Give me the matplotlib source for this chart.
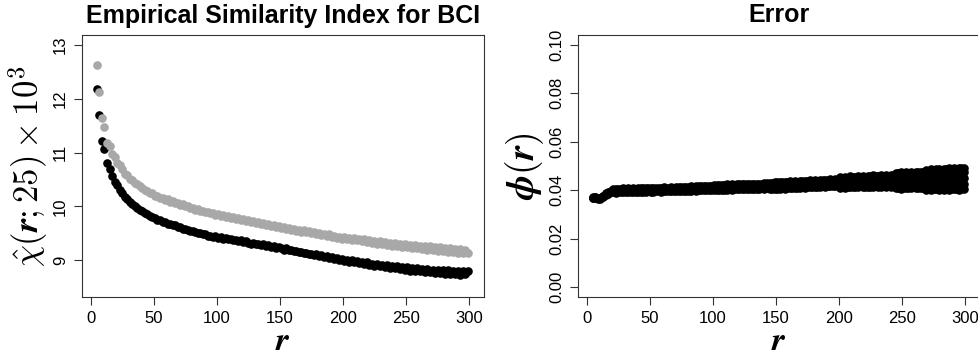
import matplotlib
matplotlib.use("Agg")
import matplotlib.pyplot as plt

plt.rcParams['font.family'] = ['Liberation Sans', 'DejaVu Sans']
plt.rcParams['mathtext.fontset'] = 'cm'

# ---------------- data ----------------
r = list(range(5, 300, 2))

chi_black = [
    12.17, 11.70, 11.21, 11.07, 10.80, 10.69, 10.57, 10.46, 10.40, 10.31,
    10.25, 10.18, 10.14, 10.08, 10.05, 10.00, 9.98, 9.94, 9.92, 9.88,
    9.86, 9.82, 9.80, 9.79, 9.75, 9.74, 9.71, 9.71, 9.68, 9.67,
    9.65, 9.65, 9.62, 9.61, 9.59, 9.59, 9.56, 9.55, 9.54, 9.52,
    9.51, 9.51, 9.48, 9.48, 9.46, 9.46, 9.44, 9.45, 9.42, 9.43,
    9.40, 9.42, 9.39, 9.40, 9.37, 9.38, 9.36, 9.38, 9.34, 9.35,
    9.33, 9.31, 9.33, 9.30, 9.31, 9.28, 9.30, 9.27, 9.28, 9.25,
    9.26, 9.23, 9.24, 9.22, 9.20, 9.22, 9.19, 9.20, 9.17, 9.18,
    9.15, 9.16, 9.13, 9.14, 9.11, 9.12, 9.10, 9.12, 9.08, 9.09,
    9.06, 9.08, 9.04, 9.06, 9.02, 9.04, 9.01, 9.03, 8.99, 9.00,
    8.97, 9.00, 8.96, 8.98, 8.95, 8.97, 8.93, 8.96, 8.92, 8.94,
    8.90, 8.93, 8.89, 8.92, 8.88, 8.91, 8.86, 8.90, 8.85, 8.89,
    8.84, 8.88, 8.83, 8.87, 8.81, 8.86, 8.80, 8.85, 8.80, 8.84,
    8.79, 8.84, 8.78, 8.83, 8.77, 8.83, 8.76, 8.82, 8.75, 8.82,
    8.74, 8.81, 8.74, 8.80, 8.73, 8.81, 8.74, 8.80,
]

chi_gray = [
    12.63, 12.13, 11.64, 11.48, 11.18, 11.13, 10.98, 10.92, 10.81, 10.76,
    10.69, 10.61, 10.58, 10.51, 10.49, 10.43, 10.42, 10.37, 10.35, 10.30,
    10.29, 10.25, 10.24, 10.20, 10.20, 10.16, 10.16, 10.12, 10.13, 10.09,
    10.10, 10.06, 10.07, 10.03, 10.04, 10.00, 10.01, 9.97, 9.98, 9.94,
    9.95, 9.91, 9.92, 9.89, 9.90, 9.87, 9.88, 9.85, 9.86, 9.83,
    9.84, 9.81, 9.83, 9.79, 9.81, 9.77, 9.79, 9.75, 9.77, 9.73,
    9.75, 9.71, 9.73, 9.69, 9.71, 9.67, 9.69, 9.65, 9.67, 9.63,
    9.65, 9.62, 9.64, 9.60, 9.62, 9.58, 9.60, 9.57, 9.59, 9.55,
    9.57, 9.53, 9.56, 9.52, 9.54, 9.50, 9.52, 9.49, 9.51, 9.47,
    9.49, 9.45, 9.48, 9.44, 9.46, 9.42, 9.44, 9.40, 9.43, 9.39,
    9.42, 9.38, 9.41, 9.37, 9.40, 9.35, 9.39, 9.34, 9.38, 9.33,
    9.36, 9.31, 9.35, 9.30, 9.34, 9.29, 9.33, 9.27, 9.32, 9.26,
    9.30, 9.25, 9.30, 9.24, 9.29, 9.22, 9.28, 9.22, 9.27, 9.21,
    9.26, 9.20, 9.26, 9.19, 9.25, 9.18, 9.24, 9.17, 9.23, 9.16,
    9.22, 9.15, 9.21, 9.14, 9.21, 9.13, 9.20, 9.14,
]

phi_mid = [
    0.0369, 0.0371, 0.0368, 0.0367, 0.0375, 0.0384, 0.0389, 0.0395, 0.0398, 0.0397,
    0.0399, 0.0398, 0.0400, 0.0399, 0.0400, 0.0399, 0.0401, 0.0400, 0.0401, 0.0400,
    0.0401, 0.0401, 0.0402, 0.0401, 0.0402, 0.0402, 0.0403, 0.0402, 0.0403, 0.0403,
    0.0403, 0.0404, 0.0403, 0.0404, 0.0404, 0.0405, 0.0405, 0.0406, 0.0406, 0.0407,
    0.0407, 0.0408, 0.0408, 0.0409, 0.0409, 0.0410, 0.0410, 0.0411, 0.0411, 0.0412,
    0.0412, 0.0412, 0.0413, 0.0413, 0.0413, 0.0414, 0.0414, 0.0414, 0.0415, 0.0415,
    0.0415, 0.0415, 0.0416, 0.0416, 0.0416, 0.0416, 0.0417, 0.0417, 0.0417, 0.0418,
    0.0418, 0.0418, 0.0419, 0.0419, 0.0420, 0.0420, 0.0421, 0.0421, 0.0422, 0.0422,
    0.0423, 0.0423, 0.0424, 0.0424, 0.0425, 0.0425, 0.0426, 0.0426, 0.0427, 0.0427,
    0.0428, 0.0428, 0.0429, 0.0429, 0.0430, 0.0430, 0.0431, 0.0431, 0.0432, 0.0432,
    0.0433, 0.0433, 0.0434, 0.0434, 0.0434, 0.0435, 0.0435, 0.0435, 0.0436, 0.0436,
    0.0436, 0.0437, 0.0437, 0.0437, 0.0438, 0.0438, 0.0438, 0.0439, 0.0439, 0.0439,
    0.0440, 0.0440, 0.0440, 0.0441, 0.0441, 0.0441, 0.0442, 0.0442, 0.0442, 0.0443,
    0.0443, 0.0443, 0.0444, 0.0444, 0.0445, 0.0445, 0.0445, 0.0446, 0.0446, 0.0446,
    0.0447, 0.0447, 0.0447, 0.0448, 0.0448, 0.0448, 0.0449, 0.0449,
]

phi_hi = [
    0.0371, 0.0373, 0.0370, 0.0369, 0.0378, 0.0387, 0.0392, 0.0399, 0.0405, 0.0404,
    0.0407, 0.0405, 0.0408, 0.0406, 0.0409, 0.0406, 0.0410, 0.0407, 0.0409, 0.0408,
    0.0409, 0.0408, 0.0411, 0.0409, 0.0410, 0.0411, 0.0411, 0.0410, 0.0412, 0.0410,
    0.0411, 0.0413, 0.0411, 0.0412, 0.0412, 0.0413, 0.0414, 0.0413, 0.0414, 0.0416,
    0.0414, 0.0417, 0.0416, 0.0417, 0.0418, 0.0418, 0.0419, 0.0418, 0.0421, 0.0421,
    0.0421, 0.0423, 0.0422, 0.0424, 0.0422, 0.0425, 0.0423, 0.0425, 0.0424, 0.0426,
    0.0424, 0.0426, 0.0425, 0.0427, 0.0425, 0.0427, 0.0427, 0.0426, 0.0428, 0.0428,
    0.0431, 0.0430, 0.0433, 0.0432, 0.0434, 0.0433, 0.0436, 0.0434, 0.0437, 0.0435,
    0.0437, 0.0436, 0.0439, 0.0437, 0.0440, 0.0438, 0.0441, 0.0439, 0.0442, 0.0440,
    0.0443, 0.0441, 0.0444, 0.0442, 0.0445, 0.0443, 0.0447, 0.0444, 0.0453, 0.0450,
    0.0455, 0.0452, 0.0457, 0.0453, 0.0456, 0.0458, 0.0454, 0.0459, 0.0456, 0.0460,
    0.0457, 0.0461, 0.0458, 0.0460, 0.0462, 0.0459, 0.0463, 0.0460, 0.0464, 0.0461,
    0.0473, 0.0470, 0.0474, 0.0471, 0.0475, 0.0472, 0.0476, 0.0472, 0.0475, 0.0477,
    0.0474, 0.0477, 0.0484, 0.0481, 0.0487, 0.0483, 0.0486, 0.0488, 0.0485, 0.0489,
    0.0486, 0.0490, 0.0487, 0.0491, 0.0488, 0.0492, 0.0490, 0.0493,
]

phi_lo = [
    0.0367, 0.0369, 0.0366, 0.0365, 0.0372, 0.0381, 0.0386, 0.0391, 0.0392, 0.0390,
    0.0392, 0.0391, 0.0393, 0.0391, 0.0393, 0.0392, 0.0394, 0.0392, 0.0393, 0.0393,
    0.0394, 0.0393, 0.0395, 0.0394, 0.0394, 0.0395, 0.0395, 0.0394, 0.0396, 0.0395,
    0.0396, 0.0396, 0.0395, 0.0397, 0.0396, 0.0397, 0.0398, 0.0398, 0.0399, 0.0399,
    0.0400, 0.0399, 0.0401, 0.0400, 0.0402, 0.0401, 0.0403, 0.0402, 0.0401, 0.0403,
    0.0402, 0.0403, 0.0403, 0.0402, 0.0404, 0.0403, 0.0405, 0.0404, 0.0405, 0.0404,
    0.0406, 0.0404, 0.0407, 0.0405, 0.0406, 0.0405, 0.0407, 0.0408, 0.0406, 0.0408,
    0.0404, 0.0406, 0.0405, 0.0407, 0.0406, 0.0408, 0.0407, 0.0409, 0.0408, 0.0409,
    0.0409, 0.0411, 0.0410, 0.0412, 0.0411, 0.0413, 0.0412, 0.0414, 0.0413, 0.0415,
    0.0414, 0.0416, 0.0415, 0.0417, 0.0416, 0.0418, 0.0417, 0.0419, 0.0411, 0.0413,
    0.0411, 0.0414, 0.0412, 0.0415, 0.0413, 0.0412, 0.0416, 0.0413, 0.0415, 0.0412,
    0.0415, 0.0413, 0.0416, 0.0414, 0.0414, 0.0417, 0.0413, 0.0417, 0.0414, 0.0418,
    0.0408, 0.0410, 0.0407, 0.0411, 0.0408, 0.0410, 0.0409, 0.0412, 0.0408, 0.0410,
    0.0411, 0.0409, 0.0403, 0.0406, 0.0402, 0.0405, 0.0404, 0.0403, 0.0406, 0.0402,
    0.0405, 0.0403, 0.0406, 0.0404, 0.0407, 0.0403, 0.0406, 0.0404,
]

# extra replicates in the wide part of the error band (r >= 201)
r_wide = list(range(201, 300, 2))
phi_uq = [
    0.0441, 0.0444, 0.0443, 0.0446, 0.0444, 0.0447, 0.0445, 0.0443, 0.0446, 0.0444,
    0.0447, 0.0445, 0.0448, 0.0446, 0.0449, 0.0447, 0.0450, 0.0448, 0.0451, 0.0449,
    0.0451, 0.0449, 0.0455, 0.0452, 0.0457, 0.0454, 0.0458, 0.0456, 0.0459, 0.0455,
    0.0460, 0.0457, 0.0461, 0.0465, 0.0462, 0.0467, 0.0463, 0.0468, 0.0464, 0.0469,
    0.0466, 0.0470, 0.0467, 0.0471, 0.0468, 0.0472, 0.0469, 0.0473, 0.0470, 0.0474,
]
phi_lq = [
    0.0423, 0.0421, 0.0424, 0.0422, 0.0425, 0.0423, 0.0422, 0.0425, 0.0423, 0.0426,
    0.0424, 0.0427, 0.0425, 0.0426, 0.0424, 0.0427, 0.0425, 0.0428, 0.0426, 0.0427,
    0.0428, 0.0426, 0.0425, 0.0427, 0.0424, 0.0426, 0.0423, 0.0427, 0.0424, 0.0428,
    0.0425, 0.0427, 0.0424, 0.0422, 0.0425, 0.0423, 0.0426, 0.0422, 0.0425, 0.0423,
    0.0426, 0.0424, 0.0427, 0.0425, 0.0426, 0.0424, 0.0427, 0.0425, 0.0428, 0.0426,
]

x_ticks = [0, 50, 100, 150, 200, 250, 300]
chi_ticks = [9, 10, 11, 12, 13]
phi_ticks = [0.00, 0.02, 0.04, 0.06, 0.08, 0.10]
phi_ticklabels = ["0.00", "0.02", "0.04", "0.06", "0.08", "0.10"]

# ---------------- figure ----------------
W, H = 979, 355
fig = plt.figure(figsize=(W / 100, H / 100), dpi=100)
ax1 = fig.add_axes([82 / W, 58 / H, 402 / W, 262 / H])
ax2 = fig.add_axes([578 / W, 58 / H, 402 / W, 262 / H])

ms = 6.2
gray = '#A8A8A8'
ax1.plot(r, chi_black, 'o', color='black', ms=ms, mew=0)
ax1.plot(r, chi_gray, 'o', color=gray, ms=ms, mew=0)

for series_r, series in ((r, phi_mid), (r, phi_hi), (r, phi_lo),
                         (r_wide, phi_uq), (r_wide, phi_lq)):
    ax2.plot(series_r, series, 'o', color='black', ms=ms, mew=0)

tick_fs = 12
for ax in (ax1, ax2):
    ax.set_xlim(-6.8, 311.8)
    ax.set_xticks(x_ticks)
    ax.tick_params(direction='out', length=6, width=0.8, color='#333333',
                   labelsize=tick_fs, pad=4)
    ax.tick_params(axis='y', labelrotation=90)
    for s in ax.spines.values():
        s.set_linewidth(0.8)
        s.set_color('#333333')
    ax.set_xlabel(r'$\boldsymbol{r}$', fontsize=24, labelpad=0)

ax1.set_ylim(8.32, 13.18)
ax1.set_yticks(chi_ticks)
ax1.set_yticklabels([str(t) for t in chi_ticks], va='center')
ax2.set_ylim(-0.004, 0.104)
ax2.set_yticks(phi_ticks)
ax2.set_yticklabels(phi_ticklabels, va='center')

ax1.set_ylabel(r'$\boldsymbol{\hat{\chi}(r;25)\times 10^{3}}$',
               fontsize=25, labelpad=2)
ax2.set_ylabel(r'$\boldsymbol{\phi(r)}$', fontsize=27, labelpad=2)

ax1.set_title('Empirical Similarity Index for BCI', fontsize=18, fontweight='bold', pad=9)
ax2.set_title('Error', fontsize=18, fontweight='bold', pad=9)

fig.savefig('out.png', dpi=100)
